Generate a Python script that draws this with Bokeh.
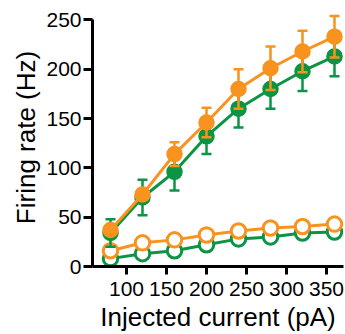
from bokeh.plotting import figure
from bokeh.models import Range1d, FixedTicker
from bokeh.embed import file_html
from bokeh.resources import INLINE

# ---- data ----
current = [80, 120, 160, 200, 240, 280, 320, 360]
green_filled = [34, 70, 96, 132, 160, 180, 198, 213]
green_filled_err = [14, 18, 19, 18, 19, 20, 20, 20]
orange_filled = [37, 73, 114, 146, 180, 201, 218, 233]
orange_filled_err = [4, 5, 12, 15, 20, 22, 21, 21]
green_open = [8, 13, 16, 22, 28, 30, 34, 35]
orange_open = [16, 24, 27, 32, 36, 39, 40.5, 43]
x_ticks = [100, 150, 200, 250, 300, 350]
y_ticks = [0, 50, 100, 150, 200, 250]

GREEN = "#0B9444"
ORANGE = "#F7931E"
FONT = "Liberation Sans"

p = figure(width=345, height=334, output_backend="svg", toolbar_location=None,
           x_range=Range1d(57.5, 371.25), y_range=Range1d(0, 261.6),
           min_border_left=92, min_border_right=2, min_border_top=8,
           min_border_bottom=67)
p.outline_line_color = None
p.xgrid.visible = False
p.ygrid.visible = False
p.background_fill_color = "white"
p.border_fill_color = "white"


def draw(y, err, color, filled):
    if err is not None:
        lo = [a - b for a, b in zip(y, err)]
        hi = [a + b for a, b in zip(y, err)]
        p.segment(x0=current, y0=lo, x1=current, y1=hi,
                  line_color=color, line_width=2.5)
        p.scatter(x=current + current, y=lo + hi, marker="dash", size=10,
                  line_color=color, line_width=2.5)
    p.line(current, y, line_color=color, line_width=3)
    if filled:
        p.scatter(current, y, size=15, fill_color=color, line_color=color,
                  line_width=1.5)
    else:
        p.scatter(current, y, size=14.5, fill_color="white", line_color=color,
                  line_width=3)


draw(green_open, None, GREEN, False)
draw(orange_open, None, ORANGE, False)
draw(green_filled, green_filled_err, GREEN, True)
draw(orange_filled, orange_filled_err, ORANGE, True)

p.xaxis.ticker = FixedTicker(ticks=x_ticks)
p.yaxis.ticker = FixedTicker(ticks=y_ticks)
p.yaxis.bounds = (0, 250)
p.xaxis.axis_label = "Injected current (pA)"
p.yaxis.axis_label = "Firing rate (Hz)"

for ax in p.axis:
    ax.axis_line_width = 3
    ax.axis_line_color = "black"
    ax.major_tick_line_width = 3
    ax.major_tick_line_color = "black"
    ax.major_tick_in = 0
    ax.minor_tick_in = 0
    ax.minor_tick_out = 0
    ax.major_label_text_font = FONT
    ax.major_label_text_font_size = "21px"
    ax.major_label_text_color = "black"
    ax.axis_label_text_font = FONT
    ax.axis_label_text_font_size = "26px"
    ax.axis_label_text_font_style = "normal"
    ax.axis_label_text_color = "black"

p.yaxis.major_tick_out = 9
p.xaxis.major_tick_out = 8
p.yaxis.major_label_standoff = 2
p.yaxis.axis_label_standoff = 2
p.xaxis.major_label_standoff = 7
p.xaxis.axis_label_standoff = 3

open("out.html", "w").write(file_html(p, INLINE))
